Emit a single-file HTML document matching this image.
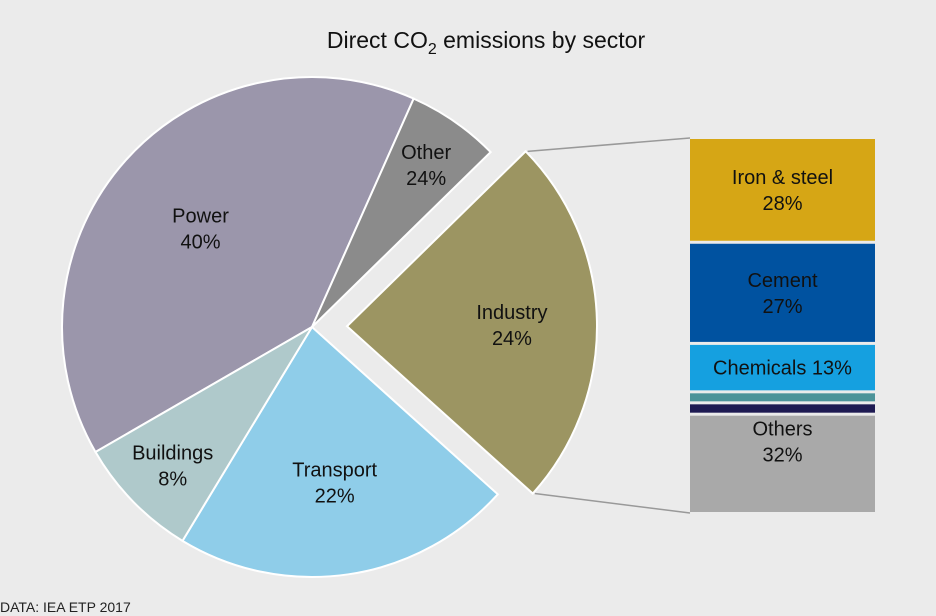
<!DOCTYPE html>
<html><head><meta charset="utf-8"><style>
body{margin:0;background:#ebebeb;}
svg{display:block;font-family:"Liberation Sans",Arial,sans-serif;}
</style></head><body>
<svg id="c" width="936" height="616" viewBox="0 0 936 616">
<rect width="936" height="616" fill="#ebebeb"/>
<text x="486" y="48" font-size="23" text-anchor="middle" fill="#111">Direct CO<tspan font-size="16" dy="6">2</tspan><tspan dy="-6"> emissions by sector</tspan></text>
<text x="0" y="612" font-size="14" fill="#222">DATA: IEA ETP 2017</text>
<g id="pie"></g><g id="stack"></g>
</svg>
<script>
const sectors=["Power","Other","Industry","Transport","Buildings"];
const shares=[40,6,24,22,8];
const labels=["40%","24%","24%","22%","8%"];
const subCats=["Iron & steel","Cement","Chemicals","Sub-a","Sub-b","Others"];
const subVals=[28,27,12.5,2.2,2.3,26.5];
const subLabels=["28%","27%","13%","","","32%"];
const NS="http://www.w3.org/2000/svg";
const colors=["#9b96ab","#8b8b8b","#9c9562","#8fcde9","#afc9cb"];
const subColors=["#d6a615","#0052a0","#15a0e0","#4c9399","#1e1a52","#a9a9a9"];
const labelR={"Power":0.6,"Other":0.8,"Industry":0.66,"Transport":0.62,"Buildings":0.78};
function mk(t,a,p){const e=document.createElementNS(NS,t);for(const k in a)e.setAttribute(k,a[k]);p.appendChild(e);return e;}
const cx=312,cy=327,R=250,start=-120;
const total=shares.reduce((a,b)=>a+b,0);
function ang(v){return v/total*360;}
function pt(x,y,r,a){const t=(a-90)*Math.PI/180;return[x+r*Math.cos(t),y+r*Math.sin(t)];}
const pie=document.getElementById('pie');
let a0=start;
let indA0=0,indA1=0,ox=0,oy=0;
shares.forEach((v,i)=>{
  const a1=a0+ang(v);let x=cx,y=cy;
  if(sectors[i]==="Industry"){const m=(a0+a1)/2;[x,y]=pt(cx,cy,35,m);indA0=a0;indA1=a1;ox=x;oy=y;}
  const p0=pt(x,y,R,a0),p1=pt(x,y,R,a1);
  const s=mk('path',{d:`M${x},${y}L${p0[0]},${p0[1]}A${R},${R} 0 ${a1-a0>180?1:0} 1 ${p1[0]},${p1[1]}Z`,fill:colors[i],stroke:"#fff","stroke-width":2},pie);
  
  
  const m=(a0+a1)/2;const lr=labelR[sectors[i]];
  const [lx,ly]=pt(x,y,R*lr,m);
  const t=mk('text',{x:lx,y:ly-4,"font-size":20,"text-anchor":"middle",fill:"#111"},pie);
  
  
  mk('tspan',{x:lx},t).textContent=sectors[i];
  mk('tspan',{x:lx,dy:26},t).textContent=labels[i];
  a0=a1;
});
const st=document.getElementById('stack');
const bx=690,bw=185,top0=139,bot=512,gap=3;
const sum=subVals.reduce((a,b)=>a+b,0);
const k=(bot-top0-gap*(subVals.length-1))/sum;
let y=top0;
subVals.forEach((v,i)=>{
  const h=v*k;
  const r=mk('rect',{x:bx,y:y,width:bw,height:h,fill:subColors[i]},st);
  
  
  if(subLabels[i]){
    const t=mk('text',{x:bx+bw/2,"font-size":20,"text-anchor":"middle",fill:"#111"},st);
    
    
    if(h<60){t.setAttribute('y',y+h/2+7);t.textContent=subCats[i]+" "+subLabels[i];}
    else if(subCats[i]==="Others"){t.setAttribute('y',y+20);mk('tspan',{x:bx+bw/2},t).textContent=subCats[i];mk('tspan',{x:bx+bw/2,dy:26},t).textContent=subLabels[i];}
    else{t.setAttribute('y',y+h/2-6);mk('tspan',{x:bx+bw/2},t).textContent=subCats[i];mk('tspan',{x:bx+bw/2,dy:26},t).textContent=subLabels[i];}
  }
  y+=h+gap;
});
const e0=pt(ox,oy,R,indA0),e1=pt(ox,oy,R,indA1);
const l1=mk('line',{x1:e0[0]+2,y1:e0[1],x2:bx,y2:top0-1,stroke:"#999","stroke-width":1.5},st);

const l2=mk('line',{x1:e1[0]+2,y1:e1[1],x2:bx,y2:bot+1,stroke:"#999","stroke-width":1.5},st);

</script>
</body></html>
